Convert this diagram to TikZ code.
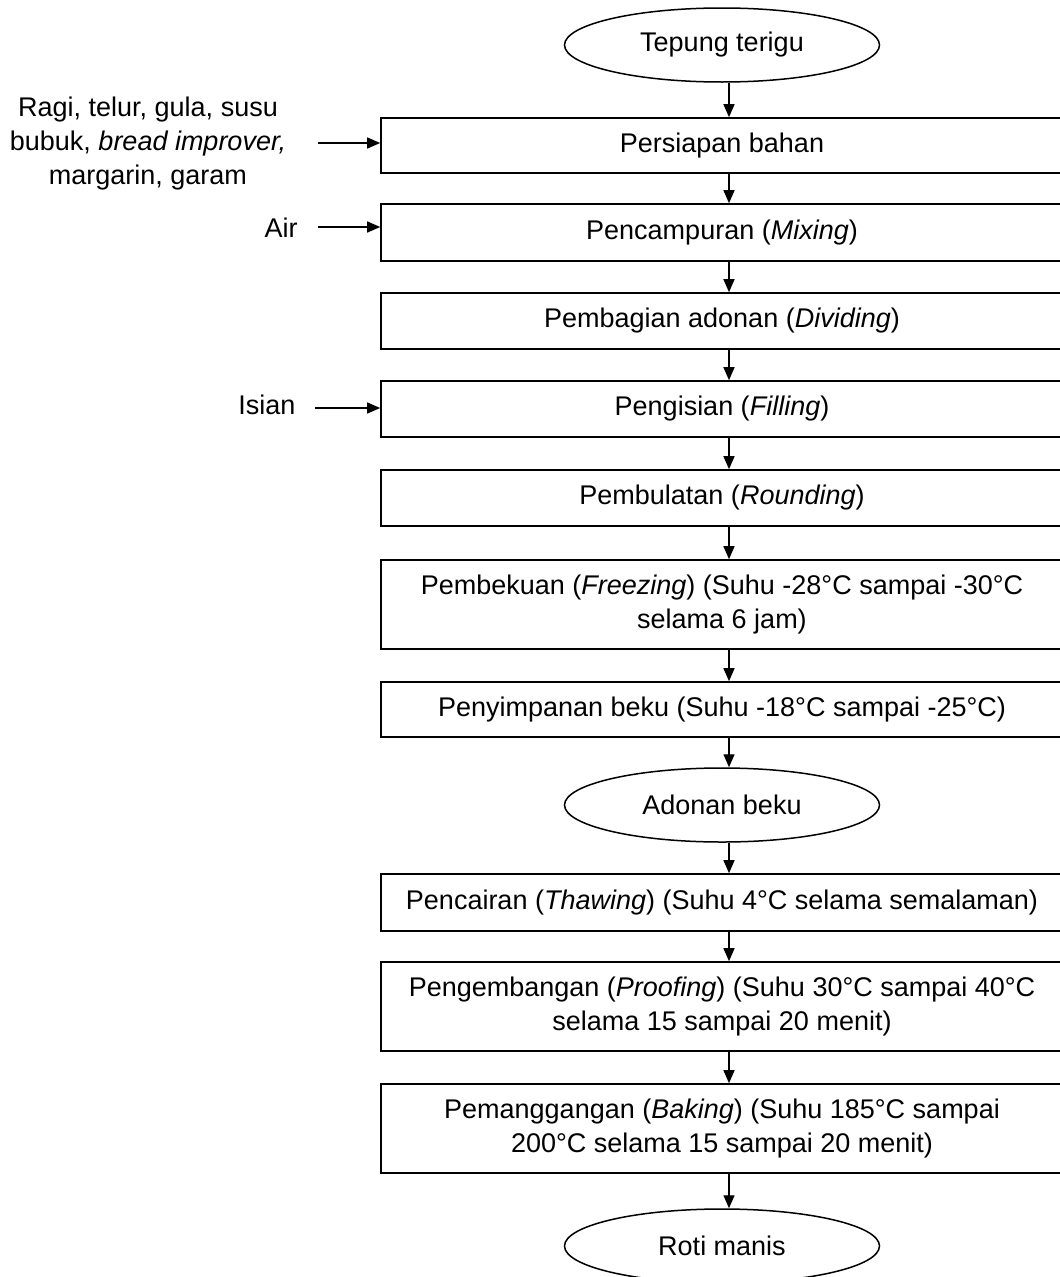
\documentclass[tikz,border=0pt]{standalone}
\usepackage{fontspec}
\setmainfont{Liberation Sans}
\usetikzlibrary{shapes.geometric,arrows.meta}
\begin{document}
\begin{tikzpicture}[x=1pt,y=-1pt,
  every node/.style={font=\fontsize{27}{34}\selectfont},
  procbox/.style={draw,line width=1.6pt,rectangle,minimum width=682pt,align=center,inner sep=0pt},
  term/.style={draw,line width=1.5pt,ellipse,minimum width=315pt,minimum height=74pt,inner sep=0pt},
  arr/.style={line width=1.4pt,-{Triangle[length=13pt,width=11pt]}},
  lbl/.style={align=center,inner sep=0pt}]
\useasboundingbox (0,0) rectangle (1060,1277);
\clip (0,0) rectangle (1060,1277);
\coordinate (ax) at (729,0);

\node[term] (t1) at (722,45) {Tepung terigu};
\node[procbox,minimum height=55pt] (b1) at (722,145.5) {Persiapan bahan};
\node[procbox,minimum height=57pt] (b2) at (722,232.5) {Pencampuran (\textit{Mixing})};
\node[procbox,minimum height=56pt] (b3) at (722,321) {Pembagian adonan (\textit{Dividing})};
\node[procbox,minimum height=56pt] (b4) at (722,409) {Pengisian (\textit{Filling})};
\node[procbox,minimum height=56pt] (b5) at (722,498) {Pembulatan (\textit{Rounding})};
\node[procbox,minimum height=89pt] (b6) at (722,604.5) {Pembekuan (\textit{Freezing}) (Suhu -28°C sampai -30°C\\selama 6 jam)};
\node[procbox,minimum height=55pt] (b7) at (722,709.5) {Penyimpanan beku (Suhu -18°C sampai -25°C)};
\node[term] (t2) at (722,805) {Adonan beku};
\node[procbox,minimum height=57pt] (b8) at (722,902.5) {Pencairan (\textit{Thawing}) (Suhu 4°C selama semalaman)};
\node[procbox,minimum height=89pt] (b9) at (722,1006.5) {Pengembangan (\textit{Proofing}) (Suhu 30°C sampai 40°C\\selama 15 sampai 20 menit)};
\node[procbox,minimum height=89pt] (b10) at (722,1128.5) {Pemanggangan (\textit{Baking}) (Suhu 185°C sampai\\200°C selama 15 sampai 20 menit)};
\node[term] (t3) at (722,1246) {Roti manis};

\node[lbl] (in1) at (148,144) {Ragi, telur, gula, susu\\bubuk, \textit{bread improver,}\\margarin, garam};
\node[lbl] (in2) at (281,228) {Air};
\node[lbl] (in3) at (267,405) {Isian};
\coordinate (s1) at (318,143);
\coordinate (s2) at (318,227);
\coordinate (s3) at (315,408);

\draw[arr] (s1) -- (s1 -| b1.west);
\draw[arr] (s2) -- (s2 -| b2.west);
\draw[arr] (s3) -- (s3 -| b4.west);

\draw[arr] (t1.south -| ax) -- (b1.north -| ax);
\draw[arr] (b1.south -| ax) -- (b2.north -| ax);
\draw[arr] (b2.south -| ax) -- (b3.north -| ax);
\draw[arr] (b3.south -| ax) -- (b4.north -| ax);
\draw[arr] (b4.south -| ax) -- (b5.north -| ax);
\draw[arr] (b5.south -| ax) -- (b6.north -| ax);
\draw[arr] (b6.south -| ax) -- (b7.north -| ax);
\draw[arr] (b7.south -| ax) -- (t2.north -| ax);
\draw[arr] (t2.south -| ax) -- (b8.north -| ax);
\draw[arr] (b8.south -| ax) -- (b9.north -| ax);
\draw[arr] (b9.south -| ax) -- (b10.north -| ax);
\draw[arr] (b10.south -| ax) -- (t3.north -| ax);
\end{tikzpicture}
\end{document}
